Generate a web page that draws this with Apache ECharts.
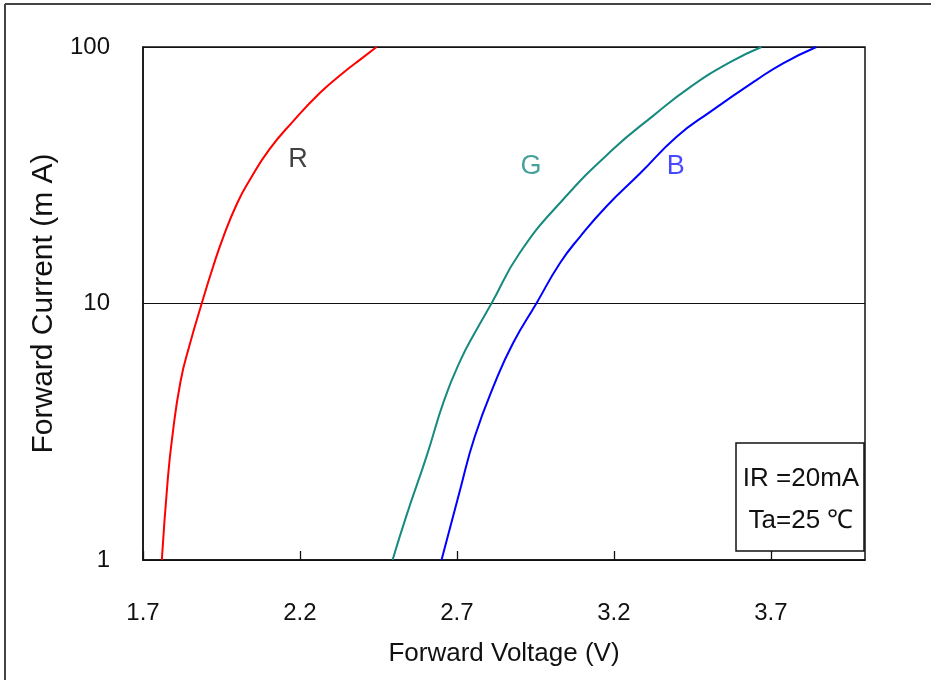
<!DOCTYPE html>
<html>
<head>
<meta charset="utf-8">
<script src="https://cdn.jsdelivr.net/npm/echarts@6/dist/echarts.min.js"></script>
<style>
html,body{margin:0;padding:0;background:#fff;}
#chart{width:935px;height:680px;}
</style>
</head>
<body>
<div id="chart"></div>
<script>
// Forward voltage (V) vs forward current (mA)
const redV   = [1.760, 1.778, 1.793, 1.820, 1.850, 1.887, 1.924, 1.956, 2.000, 2.040, 2.102, 2.178, 2.264, 2.336, 2.398, 2.444];
const redI   = [1,     2,     3,     5,     7,     10,    14,    18.2,  24.6,  30.3,  39.8,  51.3,  66.3,  79,    90.5,  100];
const greenV = [2.495, 2.540, 2.603, 2.660, 2.712, 2.757, 2.810, 2.901, 3.039, 3.198, 3.325, 3.442, 3.569, 3.670];
const greenI = [1,     1.5,   2.53,  4.22,  6.03,  7.69,  10,    15.8,  25.5,  40.0,  53.9,  69.6,  87.1,  100];
const blueV  = [2.651, 2.710, 2.757, 2.821, 2.879, 2.953, 3.028, 3.092, 3.176, 3.283, 3.400, 3.508, 3.654, 3.739, 3.845];
const blueI  = [1,     1.876, 3.03,  4.90,  7.02,  10,    14.35, 18.2,  23.9,  32.1,  44.7,  56.0,  74.3,  86.4,  100];

const xTicks = [1.7, 2.2, 2.7, 3.2, 3.7];
const curveNames = ['R', 'G', 'B'];
const curveLabelPos = [[2.194, 36.5], [2.936, 34.3], [3.397, 34.3]];
const noteLines = ['IR =20mA', 'Ta=25 ℃'];

const FONT = '"Liberation Sans", Arial, sans-serif';
const colors = ['#ff0000', '#178a80', '#0000ff'];
const labelColors = ['#111111', '#178a80', '#1a1aff'];

function pairs(vs, is) { return vs.map((v, k) => [v, is[k]]); }

const chart = echarts.init(document.getElementById('chart'), null, {renderer: 'canvas'});

const lineSeries = [[redV, redI], [greenV, greenI], [blueV, blueI]].map((d, k) => ({
  type: 'line',
  name: curveNames[k],
  data: pairs(d[0], d[1]),
  smooth: 0.5,
  showSymbol: false,
  symbol: 'none',
  lineStyle: {color: colors[k], width: 2},
  z: 3
}));

const labelSeries = {
  type: 'scatter',
  data: curveLabelPos.map((p, k) => ({
    value: p,
    label: {show: true, formatter: curveNames[k], color: labelColors[k]}
  })),
  symbol: 'rect',
  symbolSize: 1,
  itemStyle: {color: 'rgba(0,0,0,0)'},
  label: {position: 'inside', fontFamily: FONT, fontSize: 27},
  silent: true,
  z: 4
};

chart.setOption({
  animation: false,
  backgroundColor: '#ffffff',
  grid: {left: 143, right: 70, top: 47, bottom: 120, show: true, borderColor: '#111', borderWidth: 1.5, backgroundColor: 'transparent'},
  xAxis: {
    type: 'value',
    min: 1.7,
    max: 4.0,
    name: 'Forward Voltage (V)',
    nameLocation: 'middle',
    nameGap: 81,
    nameTextStyle: {fontFamily: FONT, fontSize: 26, color: '#111'},
    axisLine: {show: true, onZero: false, lineStyle: {color: '#111', width: 1.5}},
    axisTick: {show: true, inside: true, length: 9, customValues: xTicks, lineStyle: {color: '#111', width: 1.3}},
    axisLabel: {customValues: xTicks, margin: 41, fontFamily: FONT, fontSize: 24, color: '#111', formatter: v => v.toFixed(1)},
    splitLine: {show: false}
  },
  yAxis: {
    type: 'log',
    logBase: 10,
    min: 1,
    max: 100,
    name: 'Forward Current (m A)',
    nameLocation: 'middle',
    nameGap: 70,
    nameTextStyle: {fontFamily: FONT, fontSize: 30, color: '#111'},
    axisLine: {show: true, lineStyle: {color: '#111', width: 1.5}},
    axisTick: {show: false},
    minorTick: {show: false},
    axisLabel: {margin: 33, fontFamily: FONT, fontSize: 24, color: '#111'},
    splitLine: {show: true, lineStyle: {color: '#111', width: 1.2}}
  },
  series: [...lineSeries, labelSeries],
  graphic: [
    {type: 'line', shape: {x1: 5, y1: 4, x2: 931, y2: 4}, style: {stroke: '#444', lineWidth: 2}},
    {type: 'line', shape: {x1: 5, y1: 4, x2: 5, y2: 680}, style: {stroke: '#444', lineWidth: 2}},
    {type: 'rect', shape: {x: 736, y: 443, width: 128, height: 108}, style: {fill: '#fff', stroke: '#111', lineWidth: 1.5}, z: 10},
    {type: 'text', x: 801, y: 479, style: {text: noteLines[0], font: '26px ' + FONT, fill: '#111', align: 'center', verticalAlign: 'middle'}, z: 11},
    {type: 'text', x: 801, y: 521, style: {text: noteLines[1], font: '26px ' + FONT, fill: '#111', align: 'center', verticalAlign: 'middle'}, z: 11}
  ]
});
</script>
</body>
</html>
